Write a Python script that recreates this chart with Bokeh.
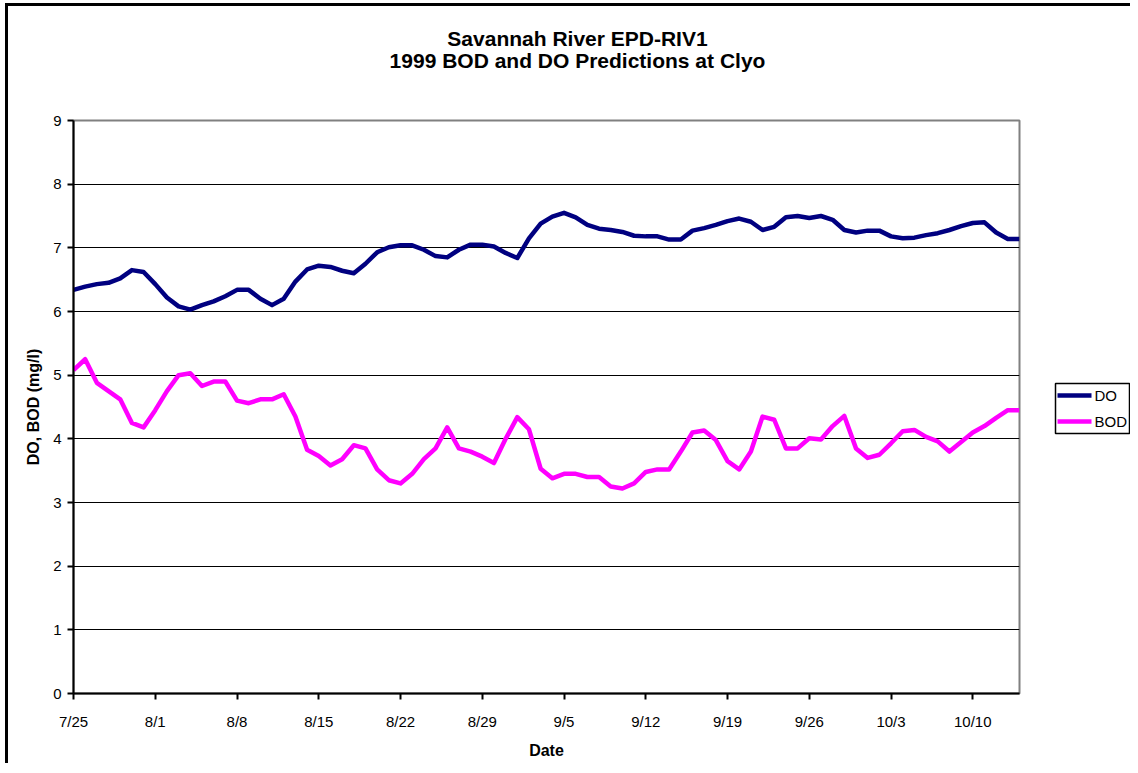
import pandas as pd
from bokeh.plotting import figure
from bokeh.layouts import column, row
from bokeh.models import Range1d, FixedTicker
from bokeh.core.properties import value
from bokeh.embed import file_html
from bokeh.resources import INLINE

# ---------------- data ----------------
start_date = "07/25/1999"

do_values = [6.34, 6.39, 6.43, 6.45, 6.52, 6.65, 6.62, 6.43, 6.22, 6.08,
             6.03, 6.10, 6.16, 6.24, 6.34, 6.34, 6.20, 6.10, 6.20, 6.47,
             6.66, 6.72, 6.70, 6.64, 6.60, 6.75, 6.93, 7.01, 7.04, 7.04,
             6.97, 6.87, 6.85, 6.97, 7.05, 7.05, 7.02, 6.92, 6.84, 7.15,
             7.38, 7.49, 7.55, 7.48, 7.36, 7.30, 7.28, 7.25, 7.19, 7.18,
             7.18, 7.13, 7.13, 7.27, 7.31, 7.36, 7.42, 7.46, 7.41, 7.28,
             7.33, 7.48, 7.50, 7.47, 7.50, 7.44, 7.28, 7.24, 7.27, 7.27,
             7.18, 7.15, 7.16, 7.20, 7.23, 7.28, 7.34, 7.39, 7.40, 7.24,
             7.14, 7.14]

bod_values = [5.08, 5.25, 4.88, 4.75, 4.62, 4.25, 4.18, 4.45, 4.75, 5.00,
              5.03, 4.83, 4.90, 4.90, 4.60, 4.56, 4.62, 4.62, 4.70, 4.35,
              3.83, 3.73, 3.58, 3.68, 3.90, 3.85, 3.52, 3.35, 3.30, 3.45,
              3.68, 3.85, 4.18, 3.85, 3.80, 3.72, 3.62, 4.00, 4.34, 4.15,
              3.53, 3.38, 3.45, 3.45, 3.40, 3.40, 3.25, 3.22, 3.30, 3.48,
              3.52, 3.52, 3.80, 4.10, 4.13, 3.98, 3.65, 3.52, 3.80, 4.35,
              4.30, 3.85, 3.85, 4.01, 3.99, 4.20, 4.36, 3.85, 3.70, 3.75,
              3.93, 4.12, 4.14, 4.03, 3.96, 3.80, 3.95, 4.10, 4.20, 4.33,
              4.45, 4.45]

tick_labels = ["7/25", "8/1", "8/8", "8/15", "8/22", "8/29", "9/5",
               "9/12", "9/19", "9/26", "10/3", "10/10"]
y_ticks = [0, 1, 2, 3, 4, 5, 6, 7, 8, 9]
grid_values = [1, 2, 3, 4, 5, 6, 7, 8]
title_lines = ["Savannah River EPD-RIV1", "1999 BOD and DO Predictions at Clyo"]
series_names = ["DO", "BOD"]
series_colors = ["#000080", "#FF00FF"]

# ---------------- derived ----------------
start = pd.to_datetime(start_date, format="%m/%d/%Y")
days = list(range(len(do_values)))
tick_pos = [int((pd.to_datetime(t + "/1999", format="%m/%d/%Y") - start).days)
            for t in tick_labels]

FONT = "Liberation Sans"


def bare(fig):
    fig.axis.visible = False
    fig.xgrid.visible = False
    fig.ygrid.visible = False
    fig.outline_line_color = None
    fig.background_fill_color = "white"
    fig.border_fill_color = "white"
    fig.min_border_left = fig.min_border_right = 0
    fig.min_border_top = fig.min_border_bottom = 0
    return fig


# ---------------- title strip (pixel coordinates, y downward) ----------------
TW, TH = 1122, 104
tfig = bare(figure(width=TW, height=TH, output_backend="svg", toolbar_location=None,
                   x_range=Range1d(0, TW), y_range=Range1d(TH, 0)))
tfig.text(x=[569, 569], y=[32, 54], text=title_lines,
          text_font=value(FONT), text_font_style="bold", text_font_size="21px",
          text_color="black", text_align="center", text_baseline="middle")

# ---------------- main plot ----------------
MW, MH = 1043, 653
BT, BB = 10, 70
p = figure(width=MW, height=MH, output_backend="svg", toolbar_location=None,
           x_range=Range1d(0, len(do_values) - 1), y_range=Range1d(y_ticks[0], y_ticks[-1]),
           min_border_left=65, min_border_right=32, min_border_top=BT,
           min_border_bottom=BB)
p.background_fill_color = "white"
p.border_fill_color = "white"
p.outline_line_color = "#808080"
p.outline_line_width = 2

p.xgrid.visible = False
p.ygrid.ticker = FixedTicker(ticks=grid_values)
p.ygrid.grid_line_color = "black"
p.ygrid.grid_line_width = 1

for ax in (p.xaxis[0], p.yaxis[0]):
    ax.axis_line_color = "black"
    ax.axis_line_width = 2
    ax.major_tick_line_color = "black"
    ax.major_tick_line_width = 2
    ax.major_tick_out = 6
    ax.major_tick_in = 0
    ax.minor_tick_line_color = None
    ax.major_label_text_font = FONT
    ax.major_label_text_font_size = "15px"
    ax.major_label_text_color = "black"
    ax.axis_label_text_font = FONT
    ax.axis_label_text_font_size = "16px"
    ax.axis_label_text_font_style = "bold"
    ax.axis_label_text_color = "black"

p.yaxis.ticker = FixedTicker(ticks=y_ticks)
p.yaxis.major_label_standoff = 6
p.yaxis.axis_label = "DO, BOD (mg/l)"
p.yaxis.axis_label_standoff = 8

p.xaxis.ticker = FixedTicker(ticks=tick_pos)
p.xaxis.major_label_overrides = {pos: lbl for pos, lbl in zip(tick_pos, tick_labels)}
p.xaxis.major_label_standoff = 13
p.xaxis.axis_label = "Date"
p.xaxis.axis_label_standoff = 9

p.line(days, do_values, line_color=series_colors[0], line_width=4.5, line_join="round")
p.line(days, bod_values, line_color=series_colors[1], line_width=4.5, line_join="round")

# ---------------- legend strip ----------------
# In a row Bokeh aligns this strip's frame with the main plot's frame, so its
# y pixel range is the main frame's height, measured down from the frame top.
LW = TW - MW
FH = MH - BT - BB
lfig = bare(figure(width=LW, height=MH, output_backend="svg", toolbar_location=None,
                   x_range=Range1d(0, LW), y_range=Range1d(FH, 0)))
box_l, box_r, box_t, box_b = 4, 78, 263, 313
lfig.quad(left=[box_l], right=[box_r], top=[box_t], bottom=[box_b],
          fill_color="white", line_color="black", line_width=1.5)
row_y = [275, 301]
lfig.segment(x0=[box_l + 2] * 2, x1=[box_l + 36] * 2, y0=row_y, y1=row_y,
             line_color=series_colors, line_width=4.5)
lfig.text(x=[box_l + 39] * 2, y=row_y, text=series_names,
          text_font=value(FONT), text_font_size="15px", text_color="black",
          text_align="left", text_baseline="middle")

layout = column(tfig, row(p, lfig, spacing=0), spacing=0)
layout.styles = {"margin-left": "5px", "margin-top": "3px",
                 "border-left": "3px solid black", "border-top": "3px solid black"}

open("out.html", "w").write(file_html(layout, INLINE))
